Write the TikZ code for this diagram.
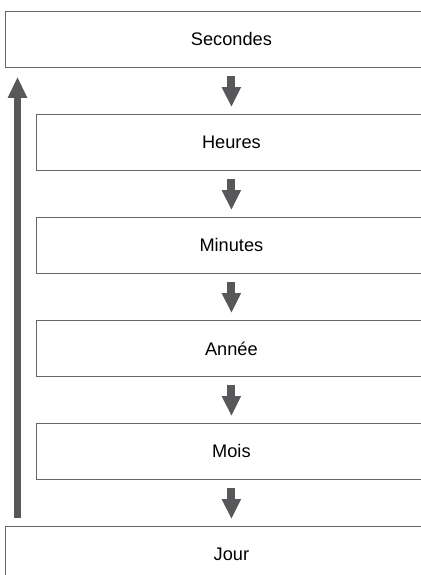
\documentclass[tikz,border=0pt]{standalone}
\usepackage{fontspec}
\setmainfont{Liberation Sans}
\usetikzlibrary{arrows.meta,calc}
\definecolor{boxgray}{HTML}{666666}
\definecolor{arrowgray}{HTML}{58585A}
\begin{document}
\begin{tikzpicture}[
 x=0.5pt,y=-0.5pt,
 box/.style={rectangle,anchor=north west,minimum height=28pt,inner sep=0pt,
  font=\fontsize{9.1}{11}\selectfont},
 wide/.style={box,minimum width=225pt},
 narrow/.style={box,minimum width=194pt},
 frame/.style={draw=boxgray,line width=.5pt},
 flow/.style={draw=arrowgray,line width=4pt,-{Triangle[width=9pt,length=10pt]},
  shorten <=4pt,shorten >=3.5pt},
 back/.style={draw=arrowgray,line width=3.5pt,-{Triangle[width=9pt,length=10.5pt]},
  shorten <=4pt,shorten >=4.5pt},
 ]
 \path[use as bounding box] (0,0) rectangle (420,575);
\node[wide] (sec) at (6,11) {Secondes};
\foreach \n/\t/\y in {heures/Heures/114,minutes/Minutes/217,annee/Ann\'ee/320,mois/Mois/423} {
 		\node[narrow] (\n) at (37,\y) {\t};
 	}
\node[wide] (jour) at (6,526) {Jour};
 		%Rahmen, rechts offen
\foreach \n in {sec,heures,minutes,annee,mois,jour} {
 		\draw[frame] ([xshift=150pt]\n.north east) -- (\n.north west)
 		 -- (\n.south west) -- ([xshift=150pt]\n.south east);
 	}
 		%Pfeile
\foreach \a/\b in {sec/heures,heures/minutes,minutes/annee,annee/mois,mois/jour} {
 		\draw[flow] (\a.south) -- (\b.north);
 	}
\draw[back] ($(jour.north west)+(11.5,0)$) -- ($(sec.south west)+(11.5,0)$);
\end{tikzpicture}
\end{document}
